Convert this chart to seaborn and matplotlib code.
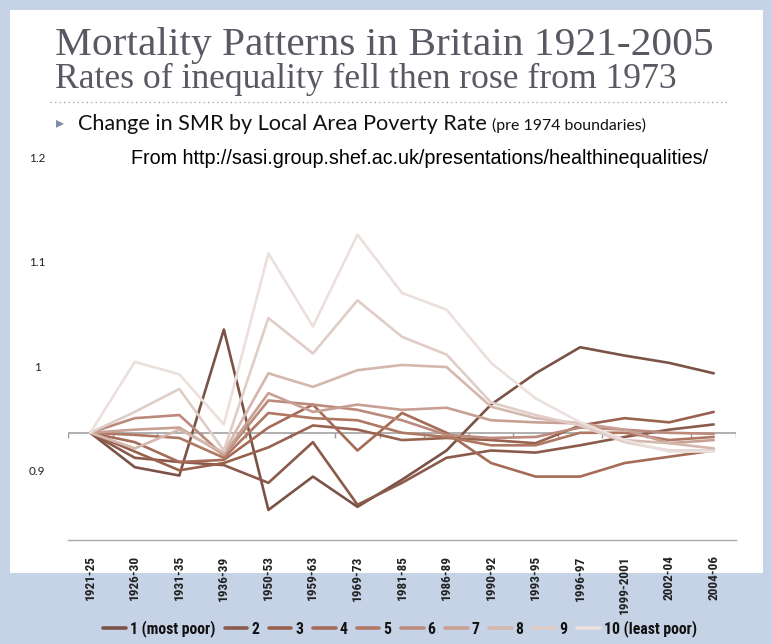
import numpy as np
import pandas as pd
import matplotlib
matplotlib.use("Agg")
import matplotlib.pyplot as plt
import seaborn as sns
from matplotlib.lines import Line2D
from matplotlib.patches import Rectangle
from matplotlib import font_manager as fm

# ---------------- data ----------------
periods = ["1921-25", "1926-30", "1931-35", "1936-39", "1950-53", "1959-63", "1969-73",
           "1981-85", "1986-89", "1990-92", "1993-95", "1996-97", "1999-2001", "2002-04", "2004-06"]
series_names = ["1 (most poor)", "2", "3", "4", "5", "6", "7", "8", "9", "10 (least poor)"]

s1 = [0.936, 0.903, 0.895, 1.035, 0.862, 0.894, 0.865, 0.891, 0.919, 0.963, 0.993, 1.018, 1.010, 1.003, 0.993]
s2 = [0.936, 0.912, 0.908, 0.905, 0.888, 0.927, 0.867, 0.888, 0.912, 0.919, 0.917, 0.924, 0.932, 0.939, 0.944]
s3 = [0.936, 0.918, 0.900, 0.907, 0.922, 0.943, 0.939, 0.929, 0.931, 0.929, 0.926, 0.943, 0.950, 0.946, 0.956]
s4 = [0.936, 0.927, 0.908, 0.910, 0.941, 0.963, 0.919, 0.955, 0.936, 0.907, 0.894, 0.894, 0.907, 0.913, 0.919]
s5 = [0.936, 0.934, 0.931, 0.912, 0.955, 0.950, 0.948, 0.936, 0.932, 0.924, 0.924, 0.936, 0.936, 0.929, 0.932]
s6 = [0.936, 0.950, 0.953, 0.914, 0.967, 0.963, 0.958, 0.948, 0.934, 0.931, 0.932, 0.941, 0.939, 0.936, 0.935]
s7 = [0.936, 0.939, 0.941, 0.915, 0.974, 0.956, 0.963, 0.958, 0.960, 0.948, 0.946, 0.945, 0.939, 0.926, 0.929]
s8 = [0.936, 0.921, 0.939, 0.917, 0.993, 0.980, 0.996, 1.001, 0.999, 0.961, 0.950, 0.945, 0.929, 0.926, 0.921]
s9 = [0.936, 0.956, 0.978, 0.919, 1.046, 1.012, 1.063, 1.028, 1.011, 0.965, 0.953, 0.943, 0.927, 0.919, 0.919]
s10 = [0.936, 1.004, 0.992, 0.944, 1.108, 1.038, 1.126, 1.070, 1.054, 1.003, 0.969, 0.946, 0.929, 0.918, 0.918]
all_series = [s1, s2, s3, s4, s5, s6, s7, s8, s9, s10]

ytick_vals = [0.9, 1.0, 1.1, 1.2]
ytick_labels = ["0.9", "1", "1.1", "1.2"]
axis_cross = 0.936

palette = ["#7b5346", "#8a5a4a", "#98624f", "#a56b57", "#b07763",
           "#bb8a7b", "#c8a093", "#d4b7ad", "#e0cdc7", "#ebe0dc"]

rows = []
for name, vals in zip(series_names, all_series):
    for i, v in enumerate(vals):
        rows.append({"series": name, "idx": i, "value": v})
df = pd.DataFrame(rows)

# ---------------- fonts ----------------
names = {f.name for f in fm.fontManager.ttflist}
def pick(cands, default="DejaVu Sans"):
    for c in cands:
        if c in names:
            return c
    return default
SANS = pick(["Lato", "Open Sans", "Noto Sans"])
COND = pick(["Liberation Sans Narrow", "Roboto Condensed", "Open Sans Condensed", "Lato"])
SERIF = pick(["Liberation Serif", "DejaVu Serif"])
ARIAL = pick(["Liberation Sans", "Arimo", "DejaVu Sans"])

sns.set_theme(style="white")
plt.rcParams["font.family"] = [SANS, "DejaVu Sans"]

W, H = 772, 644
fig = plt.figure(figsize=(W / 100, H / 100), dpi=100)
fig.patch.set_facecolor("#c6d3e6")
fig.add_artist(Rectangle((10 / W, 1 - 573 / H), (763 - 10) / W, (573 - 10) / H,
                         transform=fig.transFigure, fc="white", ec="none", zorder=0))

ax = fig.add_axes([68 / W, 1 - 540 / H, 668 / W, 390 / H])
ax.patch.set_alpha(0)

sns.lineplot(data=df, x="idx", y="value", hue="series", hue_order=series_names,
             palette=palette, linewidth=1.9, estimator=None, sort=False,
             legend=False, ax=ax, zorder=3)

ax.set_xlim(-0.5, len(periods) - 0.5)
ax.set_ylim(0.8332, 1.2071)
for sp in ["top", "left", "right"]:
    ax.spines[sp].set_visible(False)
ax.spines["bottom"].set_color("#a8a8a8")
ax.spines["bottom"].set_linewidth(1.0)

# category axis crossing line with tick marks
bounds = np.arange(-0.5, len(periods), 1.0)
ax.plot([bounds[0], bounds[-1]], [axis_cross, axis_cross], color="#9a9a9a", lw=1.1, zorder=2)
ax.vlines(bounds, axis_cross - 0.0048, axis_cross, color="#9a9a9a", lw=1.0, zorder=2)

ax.set_xticks(range(len(periods)))
ax.set_xticklabels(periods, rotation=90, fontsize=9.5, fontweight="bold",
                   family=[COND, "DejaVu Sans"], color="#222222")
ax.tick_params(axis="x", length=0, pad=11)
ax.set_yticks(ytick_vals)
ax.set_yticklabels(ytick_labels, fontsize=8.5, color="#222222")
ax.tick_params(axis="y", length=0, pad=22.3)
for lab in ax.get_yticklabels():
    lab.set_horizontalalignment("center")
ax.set_xlabel("")
ax.set_ylabel("")
ax.grid(False)

# ---------------- texts ----------------
fig.canvas.draw()
renderer = fig.canvas.get_renderer()

def fit_text(x0, x1, ybase, s, **kw):
    t = fig.text(x0 / W, 1 - ybase / H, s, va="baseline", ha="left", **kw)
    bb = t.get_window_extent(renderer)
    t.set_fontsize(t.get_fontsize() * (x1 - x0) / bb.width)
    return t

fit_text(55, 712, 55, "Mortality Patterns in Britain 1921-2005", family=SERIF, color="#595963", fontsize=26)
fit_text(55, 678, 88, "Rates of inequality fell then rose from 1973", family=SERIF, color="#595963", fontsize=20)
fig.add_artist(Line2D([50 / W, 728 / W], [1 - 102 / H] * 2, transform=fig.transFigure,
                      color="#a9afb8", lw=0.9, ls=(0, (1.2, 2.4))))
fig.text(60 / W, 1 - 123 / H, "\u25B8", family="DejaVu Sans", fontsize=11.5, color="#7d8ca3",
         ha="center", va="center")
fit_text(78, 487, 130, "Change in SMR by Local Area Poverty Rate", family=SANS, color="#111111", fontsize=14)
fit_text(492, 647, 130, "(pre 1974 boundaries)", family=SANS, color="#111111", fontsize=9)
fit_text(131, 707, 164, "From http://sasi.group.shef.ac.uk/presentations/healthinequalities/",
         family=ARIAL, color="#000000", fontsize=12)

# ---------------- legend ----------------
handles = [Line2D([0], [0], color=c, lw=2.6) for c in palette]
leg = fig.legend(handles, series_names, loc="center", bbox_to_anchor=(400 / W, 1 - 629 / H),
                 ncol=10, frameon=False, handlelength=1.45, handletextpad=0.25,
                 columnspacing=0.6, borderaxespad=0,
                 prop=fm.FontProperties(family=[COND, "DejaVu Sans"], weight="bold", size=11.3))
for t in leg.get_texts():
    t.set_color("#111111")

fig.savefig("out.png", dpi=100, facecolor=fig.get_facecolor())
